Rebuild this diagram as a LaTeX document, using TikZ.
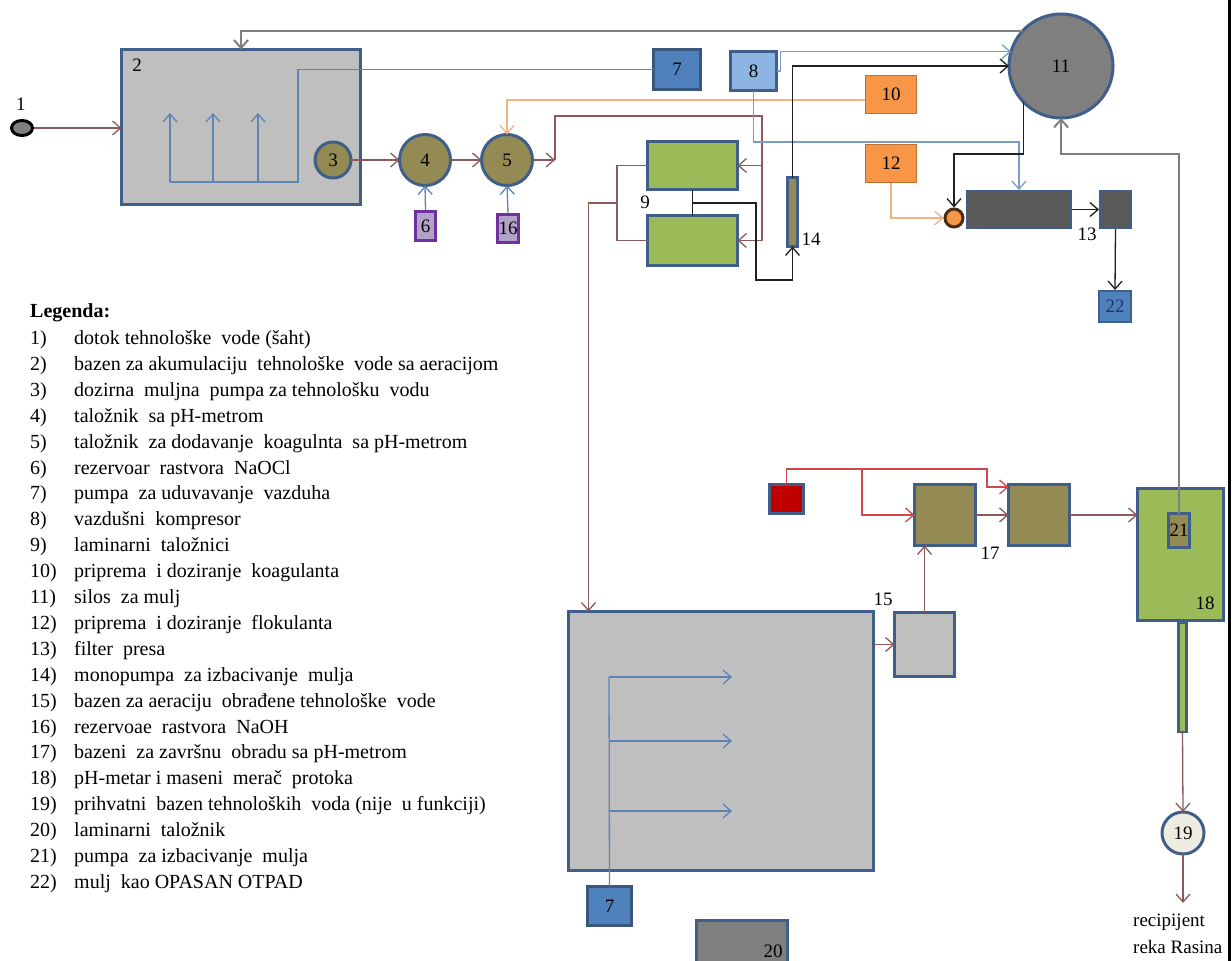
\documentclass[tikz,border=0pt]{standalone}
\usepackage{fontspec}
\setmainfont{Liberation Serif}
\usetikzlibrary{arrows.meta,calc,shapes.geometric}
\definecolor{bord}{HTML}{3F5F8A}
\definecolor{grayfill}{HTML}{BFBFBF}
\definecolor{olive}{HTML}{948A54}
\definecolor{greenf}{HTML}{9BBB59}
\definecolor{bluef}{HTML}{4F81BD}
\definecolor{lbluef}{HTML}{8DB3E2}
\definecolor{orangef}{HTML}{F79646}
\definecolor{orangeb}{HTML}{C0712F}
\definecolor{dgray}{HTML}{595959}
\definecolor{gray11}{HTML}{7F7F7F}
\definecolor{redf}{HTML}{C00000}
\definecolor{lav}{HTML}{B3A2C7}
\definecolor{purp}{HTML}{7030A0}
\definecolor{beige}{HTML}{EEECE1}
\definecolor{brnc}{HTML}{8C5A5A}
\definecolor{bluc}{HTML}{5E83B5}
\definecolor{lbluc}{HTML}{7A9CC8}
\definecolor{orgc}{HTML}{F4B183}
\definecolor{redc}{HTML}{D0464A}
\definecolor{grayc}{HTML}{7F7F7F}
\definecolor{blkc}{HTML}{202020}
\definecolor{navyt}{HTML}{1F3864}
\begin{document}
\begin{tikzpicture}[x=1pt,y=-1pt,
  every node/.style={font=\fontsize{19}{22}\selectfont},
  box/.style={rectangle,draw=bord,line width=3pt,inner sep=0pt,outer sep=0pt},
  rnd/.style={circle,draw=bord,line width=3pt,inner sep=0pt,outer sep=0pt},
  lbl/.style={inner sep=0pt},
  arr/.style={-{Straight Barb[length=8pt,width=14pt]}},
  conn/.style={line width=1.3pt},
  brn/.style={conn,draw=brnc},
  blu/.style={conn,draw=bluc},
  lblu/.style={conn,draw=lbluc},
  org/.style={conn,draw=orgc},
  redl/.style={conn,draw=redc},
  gryl/.style={line width=2pt,draw=grayc},
  blk/.style={conn,draw=blkc},
  num/.style={anchor=west,inner sep=0pt,text height=13pt,text depth=4pt,font=\fontsize{20}{22}\selectfont},
  lt/.style={anchor=west,inner sep=0pt,text height=13pt,text depth=4pt,font=\fontsize{20}{22}\selectfont}
]
\useasboundingbox (0,0) rectangle (1232,961);
\clip (0,0) rectangle (1232,961);
\fill[white] (0,0) rectangle (1232,961);

% ---------------- nodes ----------------
\node[ellipse,draw=black,fill=gray11,line width=3pt,minimum width=21pt,minimum height=15pt,inner sep=0pt] (n1) at (22,128) {};
\node[lbl] (l1) at (21,104) {1};

\node[box,fill=grayfill,minimum width=239pt,minimum height=155pt] (n2) at (241,127) {};
\node[lbl] (l2) at (137,65) {2};

\node[rnd,fill=olive,minimum size=36pt] (n3) at (333,160) {3};
\node[rnd,fill=olive,minimum size=51pt] (n4) at (425,160) {4};
\node[rnd,fill=olive,minimum size=51pt] (n5) at (507,160) {5};
\node[rectangle,draw=purp,line width=3pt,fill=lav,minimum width=20pt,minimum height=29pt,inner sep=0pt] (n6) at (425.5,226) {6};
\node[rectangle,draw=purp,line width=3pt,fill=lav,minimum width=21pt,minimum height=28pt,inner sep=0pt] (n16) at (508,228.5) {16};

\node[box,draw=bord!90!black,fill=bluef,minimum width=47pt,minimum height=40pt] (n7a) at (677,69.5) {7};
\node[box,fill=lbluef,minimum width=46pt,minimum height=39pt] (n8) at (753.5,71) {8};

\node[rectangle,draw=orangeb,line width=1.5pt,fill=orangef,minimum width=51pt,minimum height=38pt,inner sep=0pt] (n10) at (891,94.5) {10};
\node[rectangle,draw=orangeb,line width=1.5pt,fill=orangef,minimum width=51pt,minimum height=38pt,inner sep=0pt] (n12) at (891,163.5) {12};

\node[rnd,fill=gray11,minimum size=104pt] (n11) at (1061,66) {11};

\node[box,fill=greenf,line width=3.5pt,minimum width=90pt,minimum height=48pt] (n9a) at (692.5,165.5) {};
\node[box,fill=greenf,line width=3.5pt,minimum width=90pt,minimum height=50pt] (n9b) at (692.5,240.5) {};
\node[lbl] (l9) at (645,202) {9};

\node[box,fill=olive,minimum width=10pt,minimum height=69pt] (n14) at (792.5,212) {};
\node[lbl] (l14) at (811,239) {14};

\node[circle,draw=black!70!orangef,fill=orangef,line width=3pt,minimum size=18pt,inner sep=0pt] (nOc) at (954,218) {};
\node[rectangle,draw=bord,line width=2pt,fill=dgray,minimum width=104pt,minimum height=37pt,inner sep=0pt] (n13) at (1019,209.5) {};
\node[rectangle,draw=bord,line width=2pt,fill=dgray,minimum width=31pt,minimum height=37pt,inner sep=0pt] (n13b) at (1115.5,209.5) {};
\node[lbl] (l13) at (1087,234) {13};
\node[rectangle,draw=bord,line width=2pt,fill=bluef,minimum width=32pt,minimum height=31pt,inner sep=0pt,text=navyt] (n22) at (1115,306.5) {22};

\node[box,fill=redf,minimum width=34pt,minimum height=29pt] (nR) at (786.5,499) {};
\node[box,fill=olive,minimum width=61pt,minimum height=61pt] (n17a) at (945,515) {};
\node[box,fill=olive,minimum width=61pt,minimum height=61pt] (n17b) at (1039,515) {};
\node[lbl] (l17) at (990,553) {17};

\node[box,fill=greenf,minimum width=86pt,minimum height=132pt] (n18) at (1180.5,554.5) {};
\node[lbl] (l18) at (1205,603) {18};
\node[box,fill=greenf,line width=2.5pt,minimum width=8pt,minimum height=109pt] (nP) at (1182.5,677.5) {};
\node[rnd,fill=beige,minimum size=42pt] (n19) at (1183,833) {19};
\coordinate (nRec) at (1183,903);
\node[lbl,anchor=west] (lr1) at (1133,922) {recipijent};
\node[lbl,anchor=west] (lr2) at (1133,947) {reka Rasina};

\node[box,fill=grayfill,minimum width=60pt,minimum height=64pt] (n15) at (924.5,644.5) {};
\node[lbl] (l15) at (883,599) {15};
\node[box,fill=grayfill,minimum width=305pt,minimum height=259pt] (nB) at (721,741) {};
\node[box,draw=bord!90!black,fill=bluef,minimum width=44pt,minimum height=39pt] (n7b) at (609.5,906) {7};
\node[box,fill=gray11,minimum width=91pt,minimum height=70pt] (n20) at (742,955) {};
\node[lbl] (l20) at (773,951) {20};

% ---------------- connectors ----------------
% 1 -> 2
\draw[brn,arr] (n1.east) -- (n1.east -| n2.west);
% 11 -> 2 (top gray)
\draw[gryl,arr] (n11.137) -| (n2.north);
% aeration in 2
\coordinate (a1) at (170,182);
\coordinate (a2) at (213,182);
\coordinate (a3) at (258,182);
\coordinate (a4) at (298,182);
\draw[blu] (n7a.west) -- (n7a.west -| a4) -- (a4) -- (a1);
\draw[blu,arr] (a1) -- ++(0,-69);
\draw[blu,arr] (a2) -- ++(0,-69);
\draw[blu,arr] (a3) -- ++(0,-69);
% 3 -> 4 -> 5 -> 9
\draw[brn,arr] (n3.east) -- (n4.west);
\draw[brn,arr] (n4.east) -- (n5.west);
\coordinate (c5) at (555,160);
\coordinate (c5u) at (555,116);
\coordinate (c9r) at (762,116);
\draw[brn,arr] (n5.east) -- (c5);
\draw[brn,arr] (c5) -- (c5u) -- (c9r) |- (n9b.east);
\draw[brn,arr] (c9r |- n9a.east) -- (n9a.east);
% 6,16
\draw[blu,arr] (n6.north) -- (n4.south);
\draw[blu,arr] (n16.north) -- (n5.south);
% 10 -> 5
\draw[org,arr] (n10.west |- 0,100) -| (n5.north);
% 8 -> 11 and 8 -> 13
\draw[lblu,arr] (n8.east) -- ++(4,0) |- (n11.164);
\draw[lblu,arr] (n8.south) -- (n8.south |- 0,142) -| (n13.north);
% 14 -> 11
\draw[blk,arr] (n14.north) |- (n11.west);
% 9 -> 14
\coordinate (m9) at (692.5,203);
\draw[blk] (n9a.south) -- (n9b.north);
\draw[blk,arr] (m9) -- (756,203) -- (756,280) -| (n14.south);
% 9 left -> basin
\coordinate (l9x) at (617,203);
\draw[brn] (n9a.west) -| (l9x) |- (n9b.west);
\draw[brn,arr] (l9x) -| ($(nB.north west)+(20,0)$);
% 12 -> press, 11 -> press
\draw[org,arr] (n12.south) |- (nOc.west);
\draw[blk,arr] (n11.224) -- (n11.224 |- 0,154) -| (nOc.north);
% press
\draw[blk,arr] (n13.east) -- (n13b.west);
\draw[blk,arr] (n13b.south) -- (n22.north);
% 21 -> 11
\node[box,fill=olive,line width=2.5pt,minimum width=21pt,minimum height=34pt] (n21) at (1179,530.5) {21};
\draw[gryl,arr] (n21.north) -- (n21.north |- 0,154) -| (n11.south);
% red dosing
\coordinate (r1) at (786.5,469);
\coordinate (r2) at (862,469);
\coordinate (r3) at (987,469);
\draw[redl,arr] (nR.north) -- (r1) -- (r3) -- (987,487) -- (n17b.west |- 0,487);
\draw[redl,arr] (r2) |- (n17a.west);
% 17 chain
\draw[brn,arr] (n17a.east) -- (n17b.west);
\draw[brn,arr] (n17b.east) -- (n17b.east -| n18.west);
% basin -> 15 -> 17
\draw[brn,arr] (nB.east |- n15.west) -- (n15.west);
\draw[brn,arr] (n15.north) -- (n15.north |- n17a.south);
% aeration in basin
\coordinate (b1) at (609,677);
\coordinate (b2) at (609,741);
\coordinate (b3) at (609,811);
\draw[blu] (n7b.north) -- (b1);
\draw[blu,arr] (b1) -- ++(123,0);
\draw[blu,arr] (b2) -- ++(123,0);
\draw[blu,arr] (b3) -- ++(123,0);
% 18 -> 19 -> recipient
\draw[brn,arr] (nP.south) -- (n19.north);
\draw[brn,arr] (n19.south) -- (nRec);
% right edge rule
\draw[line width=3pt,black] (1229.5,0) -- (1229.5,961);

% ---------------- legend ----------------
\node[anchor=west,inner sep=0pt,font=\fontsize{20}{22}\selectfont\bfseries] (leg) at (30,313) {Legenda:};
\foreach \i/\t [count=\k] in {
 1/{dotok tehnološke\ \ vode (šaht)},
 2/{bazen za akumulaciju\ \ tehnološke\ \ vode sa aeracijom},
 3/{dozirna\ \ muljna\ \ pumpa za tehnološku\ \ vodu},
 4/{taložnik\ \ sa pH-metrom},
 5/{taložnik\ \ za dodavanje\ \ koagulnta\ \ sa pH-metrom},
 6/{rezervoar\ \ rastvora\ \ NaOCl},
 7/{pumpa\ \ za uduvavanje\ \ vazduha},
 8/{vazdušni\ \ kompresor},
 9/{laminarni\ \ taložnici},
 10/{priprema\ \ i doziranje\ \ koagulanta},
 11/{silos\ \ za mulj},
 12/{priprema\ \ i doziranje\ \ flokulanta},
 13/{filter\ \ presa},
 14/{monopumpa\ \ za izbacivanje\ \ mulja},
 15/{bazen za aeraciju\ \ obrađene tehnološke\ \ vode},
 16/{rezervoae\ \ rastvora\ \ NaOH},
 17/{bazeni\ \ za završnu\ \ obradu sa pH-metrom},
 18/{pH-metar i maseni\ \ merač\ \ protoka},
 19/{prihvatni\ \ bazen tehnoloških\ \ voda (nije\ \ u funkciji)},
 20/{laminarni\ \ taložnik},
 21/{pumpa\ \ za izbacivanje\ \ mulja},
 22/{mulj\ \ kao OPASAN OTPAD}}
{
  \node[num] (num\i) at (30,{340+(\k-1)*25.9}) {\i)};
  \node[lt] (txt\i) at (74,{340+(\k-1)*25.9}) {\t};
}
\end{tikzpicture}
\end{document}
